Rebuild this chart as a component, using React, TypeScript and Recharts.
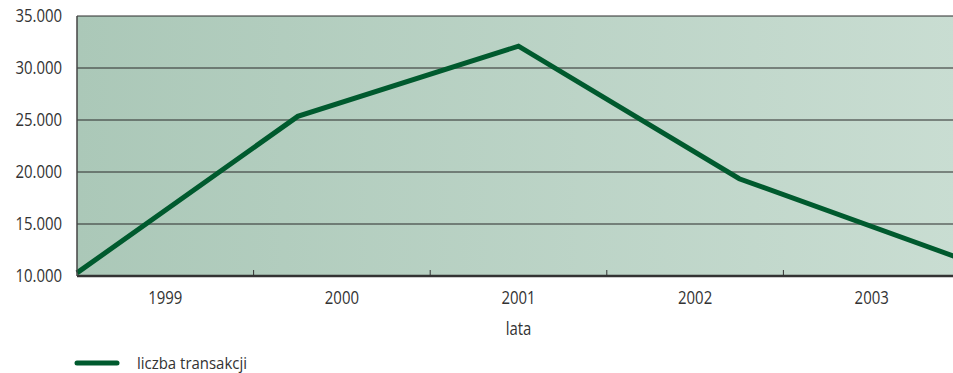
import React from "react";
import {
  LineChart, Line, XAxis, YAxis, CartesianGrid, Legend, Label,
} from "recharts";

const years = ["1999", "2000", "2001", "2002", "2003"];
const transactions = [10300, 25350, 32100, 19350, 11700];
const yTicks = [10000, 15000, 20000, 25000, 30000, 35000];

// "mid" is the middle of each year's band on the label axis
const data = years.map((year, i) => ({ year, mid: i + 0.5, transakcje: transactions[i] }));

const bandCenters = years.map((_, i) => i + 0.5);
const bandEdges = years.slice(1).map((_, i) => i + 1);

const FONT = "'Open Sans', sans-serif";
const TEXT = "#333333";
const GREEN = "#005a2e";
const SQUEEZE = 0.83;

const fmt = (v: number) => v.toLocaleString("de-DE");

// narrow text, the typeface in use is wider than the original one
function NarrowText({ x, y, text, anchor, dy }: { x: number; y: number; text: string; anchor: string; dy?: string }) {
  return (
    <text
      transform={`translate(${x},${y}) scale(${SQUEEZE},1)`}
      textAnchor={anchor}
      dy={dy}
      fill={TEXT}
      fontSize={18}
      fontFamily={FONT}
    >
      {text}
    </text>
  );
}

function YTick(props: any) {
  const { x, y, payload } = props;
  return <NarrowText x={x} y={y} text={fmt(payload.value)} anchor="end" dy="0.35em" />;
}

function YearTick(props: any) {
  const { x, y, payload } = props;
  return <NarrowText x={x} y={y} text={years[Math.floor(payload.value)]} anchor="middle" dy="0.71em" />;
}

function AxisTitle(props: any) {
  const { x, y, width, height } = props.viewBox;
  return <NarrowText x={x + width / 2} y={y + height} text="lata" anchor="middle" />;
}

function LegendBox() {
  return (
    <svg width={260} height={22} style={{ display: "block" }}>
      <line x1={3} y1={11} x2={43} y2={11} stroke={GREEN} strokeWidth={5} strokeLinecap="round" />
      <text
        x={63}
        y={11}
        dy="0.35em"
        fill={TEXT}
        fontSize={17}
        fontFamily={FONT}
        textLength={110}
        lengthAdjust="spacingAndGlyphs"
      >
        liczba transakcji
      </text>
    </svg>
  );
}

export default function App() {
  return (
    <div style={{ position: "absolute", left: 0, top: 0, width: 953, height: 373, overflow: "hidden", background: "#fff" }}>
      <LineChart width={960} height={373} data={data} margin={{ top: 16, right: 0, bottom: 0, left: 0 }}>
        <defs>
          <linearGradient id="plotBg" x1="0" y1="0" x2="1" y2="0">
            <stop offset="0%" stopColor="#abc8b8" />
            <stop offset="100%" stopColor="#c9ddd2" />
          </linearGradient>
        </defs>
        <CartesianGrid vertical={false} stroke="#2a2a2a" strokeWidth={1} fill="url(#plotBg)" fillOpacity={1} />
        <XAxis
          xAxisId="marks"
          dataKey="mid"
          type="number"
          domain={[0, years.length]}
          allowDataOverflow
          ticks={bandEdges}
          height={1}
          mirror
          tickSize={6}
          tickFormatter={() => ""}
          tickLine={{ stroke: "#333" }}
          axisLine={{ stroke: "#333", strokeWidth: 2.5 }}
        />
        <XAxis
          xAxisId="years"
          dataKey="mid"
          type="number"
          domain={[0, years.length]}
          allowDataOverflow
          ticks={bandCenters}
          height={59}
          axisLine={false}
          tickLine={false}
          tickSize={8}
          tickMargin={7}
          tick={<YearTick />}
        >
          <Label content={<AxisTitle />} />
        </XAxis>
        {/* the line runs edge to edge on its own point axis */}
        <XAxis xAxisId="zline" dataKey="year" hide />
        <YAxis
          domain={[10000, 35000]}
          ticks={yTicks}
          width={77}
          axisLine={{ stroke: "#444", strokeWidth: 1.5 }}
          tickLine={false}
          tickSize={8}
          tickMargin={7}
          tick={<YTick />}
        />
        <Line
          xAxisId="zline"
          dataKey="transakcje"
          name="liczba transakcji"
          type="linear"
          stroke={GREEN}
          strokeWidth={5}
          dot={false}
          activeDot={false}
          isAnimationActive={false}
        />
        <Legend
          verticalAlign="bottom"
          height={38}
          content={() => <LegendBox />}
          wrapperStyle={{ left: 74, top: 352, width: 260 }}
        />
      </LineChart>
    </div>
  );
}
